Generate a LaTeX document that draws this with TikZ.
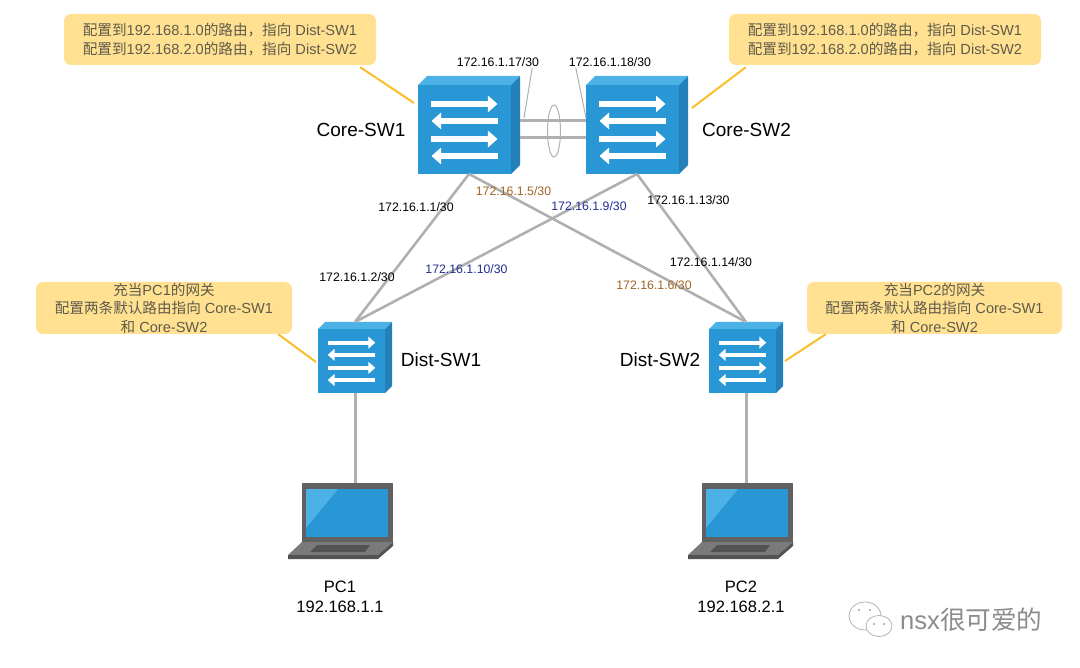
\documentclass[tikz,border=0pt]{standalone}
\usepackage{fontspec}
\usepackage{xcolor}
\usepackage{tikz}
\usetikzlibrary{arrows.meta, positioning, shapes.geometric, calc}
\setmainfont{Liberation Sans}
\newfontfamily\cjk{Noto Sans CJK SC}
\definecolor{swfront}{RGB}{41,150,214}
\definecolor{swtop}{RGB}{76,178,230}
\definecolor{swside}{RGB}{35,128,184}
\definecolor{linkgray}{RGB}{176,176,176}
\definecolor{notefill}{RGB}{255,225,145}
\definecolor{notetext}{RGB}{95,90,75}
\definecolor{leadorange}{RGB}{250,190,40}
\definecolor{ipbrown}{RGB}{160,100,35}
\definecolor{ipblue}{RGB}{35,45,145}
\tikzset{
  swbox/.style={fill=swfront, inner sep=0pt, outer sep=0pt},
  link/.style={linkgray, line width=2.6pt},
  straightlink/.style={linkgray, line width=3pt},
  thinlink/.style={linkgray, line width=1pt},
  leader/.style={leadorange, line width=2pt},
  note/.style={fill=notefill, rounded corners=7pt, text=notetext, align=center, inner sep=0pt, font=\fontsize{14.6}{18.5}\selectfont},
  iplabel/.style={font=\fontsize{12.3}{14}\selectfont, inner sep=1pt},
  swname/.style={font=\fontsize{19}{22}\selectfont, inner sep=1pt},
  pcname/.style={font=\fontsize{16.5}{20}\selectfont, align=center, inner sep=1pt},
}
\begin{document}
\begin{tikzpicture}[x=1pt, y=-1pt]
  \useasboundingbox (0,0) rectangle (1080,668);
  % switches
  \foreach \nm/\cx/\cy/\w/\h/\d/\lw in {coresw1/464.5/129.5/93/89/9/5.6, coresw2/632.5/129.5/93/89/9/5.6, distsw1/351.5/361/67/64/7/4, distsw2/742.5/361/67/64/7/4} {
    \node[swbox, minimum width=\w pt, minimum height=\h pt] (\nm) at (\cx,\cy) {};
    \fill[swtop] (\nm.north west) -- ++(\d pt,\d pt) -- ++(\w pt,0pt) -- (\nm.north east) -- cycle;
    \fill[swside] (\nm.north east) -- ++(\d pt,\d pt) -- ++(0pt,-\h pt) -- (\nm.south east) -- cycle;
    \foreach \fy/\dir in {-0.287/1, -0.096/-1, 0.107/1, 0.298/-1} {
      \draw[white, line width=\lw pt, -{Triangle[length=1.7*\lw pt, width=2.9*\lw pt]}]
        ({\cx-\dir*0.355*\w},{\cy+\fy*\h}) -- ({\cx+\dir*0.355*\w},{\cy+\fy*\h});
    }
  }
  % laptops
  \foreach \nm/\lx in {pc1/302, pc2/702} {
    \node[fill=black!62, minimum width=91pt, minimum height=59pt, inner sep=0pt, outer sep=0pt, anchor=north west] (\nm) at (\lx,483) {};
    \fill[swfront] (\lx+4,489) rectangle (\lx+86,537);
    \fill[swtop] (\lx+4,489) -- (\lx+36,489) -- (\lx+4,528) -- cycle;
    \fill[black!52] (\lx,542) -- (\lx+91,542) -- (\lx+76,555) -- (\lx-14,555) -- cycle;
    \fill[black!68] (\lx-14,555) -- (\lx+76,555) -- (\lx+91,542) -- (\lx+91,546) -- (\lx+76,559) -- (\lx-14,559) -- cycle;
    \fill[black!68] (\lx+15,545) -- (\lx+68,545) -- (\lx+63,552) -- (\lx+8,552) -- cycle;
  }
  % links
  \draw[link] ([xshift=4.5pt]coresw1.south) -- ([xshift=3.5pt,yshift=7pt]distsw1.north);
  \draw[link] ([xshift=4.5pt]coresw1.south) -- ([xshift=3.5pt,yshift=7pt]distsw2.north);
  \draw[link] ([xshift=4.5pt]coresw2.south) -- ([xshift=3.5pt,yshift=7pt]distsw1.north);
  \draw[link] ([xshift=4.5pt]coresw2.south) -- ([xshift=3.5pt,yshift=7pt]distsw2.north);
  \draw[straightlink] ([xshift=3.5pt]distsw1.south) -- ([xshift=3.5pt]distsw1.south |- pc1.north);
  \draw[straightlink] ([xshift=3.5pt]distsw2.south) -- ([xshift=3.5pt]distsw2.south |- pc2.north);
  \draw[straightlink] ([xshift=9pt,yshift=8.5pt]coresw1.east) -- ([yshift=8.5pt]coresw2.west);
  \draw[straightlink] ([xshift=9pt,yshift=-8.5pt]coresw1.east) -- ([yshift=-8.5pt]coresw2.west);
  \node[ellipse, draw=linkgray, line width=1pt, minimum width=13pt, minimum height=52pt, inner sep=0pt] (bundle) at (554,131) {};
  % address labels
  \node[iplabel] (ip17) at (498,62) {172.16.1.17/30};
  \node[iplabel] (ip18) at (610,62) {172.16.1.18/30};
  \node[iplabel] (ip1) at (416,207) {172.16.1.1/30};
  \node[iplabel] (ip2) at (357,277) {172.16.1.2/30};
  \node[iplabel, ipbrown] (ip5) at (513.5,191) {172.16.1.5/30};
  \node[iplabel, ipbrown] (ip6) at (654,285) {172.16.1.6/30};
  \node[iplabel, ipblue] (ip9) at (589,206) {172.16.1.9/30};
  \node[iplabel, ipblue] (ip10) at (466.5,269) {172.16.1.10/30};
  \node[iplabel] (ip13) at (688.5,200) {172.16.1.13/30};
  \node[iplabel] (ip14) at (711,262) {172.16.1.14/30};
  \draw[thinlink] ([xshift=-8pt]ip17.south east) -- ([xshift=13pt,yshift=11.5pt]coresw1.east);
  \draw[thinlink] ([xshift=8pt]ip18.south west) -- ([yshift=11.5pt]coresw2.west);
  % names
  \node[swname] (name1) at (361,130) {Core-SW1};
  \node[swname] (name2) at (746.5,130) {Core-SW2};
  \node[swname] (name3) at (441,360) {Dist-SW1};
  \node[swname] (name4) at (660,360) {Dist-SW2};
  \node[pcname] (pcname1) at (340,597) {PC1\\192.168.1.1};
  \node[pcname] (pcname2) at (741,597) {PC2\\192.168.2.1};
  % callouts
  \node[note, minimum width=312pt, minimum height=51pt] (note1) at (220,39.5) {{\cjk 配置到}192.168.1.0{\cjk 的路由，指向} Dist-SW1\\{\cjk 配置到}192.168.2.0{\cjk 的路由，指向} Dist-SW2};
  \node[note, minimum width=312pt, minimum height=51pt] (note2) at (885,39.5) {{\cjk 配置到}192.168.1.0{\cjk 的路由，指向} Dist-SW1\\{\cjk 配置到}192.168.2.0{\cjk 的路由，指向} Dist-SW2};
  \node[note, minimum width=256pt, minimum height=52pt] (note3) at (164,308) {{\cjk 充当}PC1{\cjk 的网关}\\{\cjk 配置两条默认路由指向} Core-SW1\\{\cjk 和} Core-SW2};
  \node[note, minimum width=255pt, minimum height=52pt] (note4) at (934.5,308) {{\cjk 充当}PC2{\cjk 的网关}\\{\cjk 配置两条默认路由指向} Core-SW1\\{\cjk 和} Core-SW2};
  \draw[leader] ([xshift=-16pt,yshift=-2pt]note1.south east) -- ([xshift=-4pt,yshift=-18pt]coresw1.north west);
  \draw[leader] ([xshift=17pt,yshift=-2pt]note2.south west) -- ([xshift=13pt,yshift=-23pt]coresw2.north east);
  \draw[leader] ([xshift=-14pt]note3.south east) -- ([xshift=-2pt,yshift=-33pt]distsw1.north west);
  \draw[leader] ([xshift=19pt]note4.south west) -- ([xshift=9pt,yshift=-32pt]distsw2.north east);
  % watermark
  \node[font=\fontsize{25.6}{28}\selectfont, text=black!45, inner sep=0pt, anchor=west] (mark) at (900,620) {nsx{\cjk 很可爱的}};
  \draw[black!30, fill=white, line width=0.8pt] (865,616) ellipse (16pt and 14pt);
  \draw[black!30, fill=white, line width=0.8pt] (879,626) ellipse (13pt and 10.5pt);
  \fill[black!35] (859,610) circle (1.2pt) (870,610) circle (1.2pt) (874,624) circle (1.2pt) (884,624) circle (1.2pt);
\end{tikzpicture}
\end{document}
